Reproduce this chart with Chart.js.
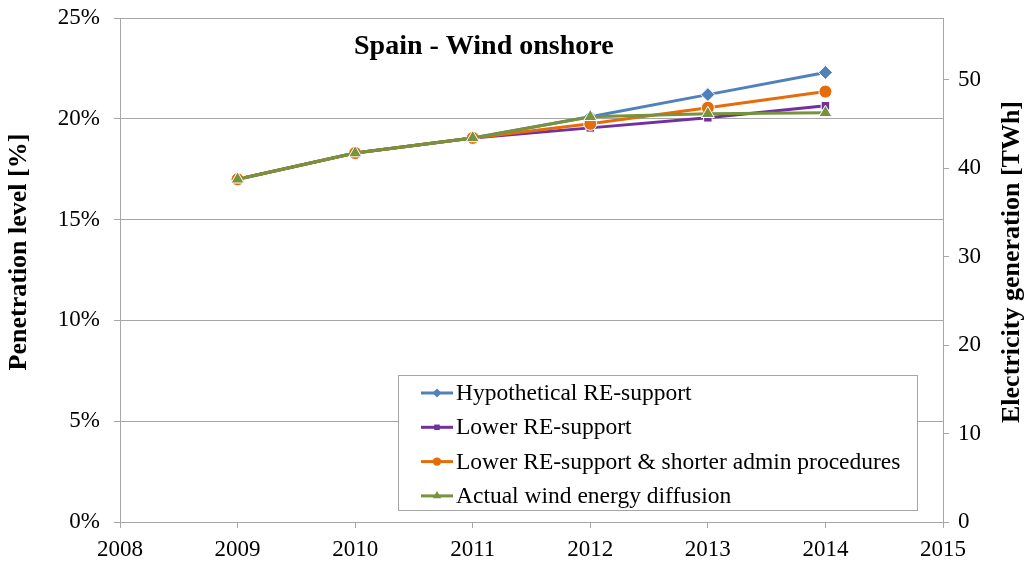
<!DOCTYPE html>
<html>
<head>
<meta charset="utf-8">
<script src="https://cdn.jsdelivr.net/npm/chart.js@4/dist/chart.umd.min.js"></script>
<style>
  html, body { margin: 0; padding: 0; background: #ffffff; }
  #wrap { position: relative; width: 1028px; height: 566px; }
</style>
</head>
<body>
<div id="wrap"><canvas id="wind-chart" width="1028" height="566"></canvas></div>
<script>
// Spain onshore wind: penetration level (% of demand) per scenario
const years = [2009, 2010, 2011, 2012, 2013, 2014];
const hypotheticalSupport = [17.0, 18.3, 19.05, 20.1, 21.2, 22.3];
const lowerSupport = [17.0, 18.3, 19.05, 19.55, 20.05, 20.65];
const lowerSupportShorterAdmin = [17.0, 18.3, 19.05, 19.75, 20.55, 21.35];
const actualDiffusion = [17.0, 18.3, 19.05, 20.1, 20.25, 20.3];

const seriesNames = [
  "Hypothetical RE-support",
  "Lower RE-support",
  "Lower RE-support & shorter admin procedures",
  "Actual wind energy diffusion"
];
const xTicks = [2008, 2009, 2010, 2011, 2012, 2013, 2014, 2015];
const leftTicks = [0, 5, 10, 15, 20, 25];
const rightTicks = [0, 10, 20, 30, 40, 50];
const rightAxisMax = 57; // TWh equivalent of 25 %

const chartTitle = "Spain - Wind onshore";
const leftTitle = "Penetration level [%]";
const rightTitle = "Electricity generation [TWh]";

const seriesValues = [hypotheticalSupport, lowerSupport, lowerSupportShorterAdmin, actualDiffusion];
const palette = ["#4f81bd", "#7030a0", "#e46c0a", "#77933c"];
const markers = [
  { style: "rectRot", radius: 7 },
  { style: "rect", radius: 6 },
  { style: "circle", radius: 6.5 },
  { style: "triangle", radius: 7.5 }
];

const serif = "'Liberation Serif', 'Times New Roman', serif";
const gridGrey = "#a6a6a6";

const datasets = seriesNames.map((name, i) => ({
  label: name,
  data: years.map((yr, k) => ({ x: yr, y: seriesValues[i][k] })),
  borderColor: palette[i],
  backgroundColor: palette[i],
  borderWidth: 3,
  pointStyle: markers[i].style,
  pointRadius: markers[i].radius,
  pointBackgroundColor: palette[i],
  pointBorderColor: "#ffffff",
  pointBorderWidth: 1,
  tension: 0,
  order: seriesNames.length - i, // last series sits on top
  yAxisID: "y"
}));

// keep the plot box fixed: no extra room for half tick labels
function noScalePadding(scale) {
  scale.paddingTop = 0;
  scale.paddingBottom = 0;
  scale.paddingLeft = 0;
  scale.paddingRight = 0;
}

// title, axis captions and the boxed legend inside the plot
const overlay = {
  id: "overlay",
  afterDraw(chart) {
    const ctx = chart.ctx;
    ctx.save();

    ctx.fillStyle = "#000000";
    ctx.font = "bold 28px " + serif;
    ctx.textAlign = "left";
    ctx.textBaseline = "middle";
    ctx.fillText(chartTitle, 354, 47);

    ctx.font = "bold 26px " + serif;
    ctx.textAlign = "center";
    ctx.save();
    ctx.translate(19, 252);
    ctx.rotate(-Math.PI / 2);
    ctx.fillText(leftTitle, 0, 0);
    ctx.restore();
    ctx.save();
    ctx.translate(1012, 262);
    ctx.rotate(-Math.PI / 2);
    ctx.fillText(rightTitle, 0, 0);
    ctx.restore();

    // legend box
    const box = { x: 398.5, y: 375.5, w: 519, h: 135 };
    ctx.fillStyle = "#ffffff";
    ctx.fillRect(box.x, box.y, box.w, box.h);
    ctx.strokeStyle = gridGrey;
    ctx.lineWidth = 1;
    ctx.strokeRect(box.x, box.y, box.w, box.h);

    ctx.font = "23.5px " + serif;
    ctx.textAlign = "left";
    ctx.textBaseline = "middle";
    seriesNames.forEach((name, i) => {
      const rowY = 393 + i * 34.3;
      ctx.strokeStyle = palette[i];
      ctx.lineWidth = 3;
      ctx.beginPath();
      ctx.moveTo(421, rowY);
      ctx.lineTo(453, rowY);
      ctx.stroke();
      ctx.fillStyle = palette[i];
      ctx.strokeStyle = palette[i];
      Chart.helpers.drawPoint(ctx, {
        pointStyle: markers[i].style,
        radius: markers[i].radius * 0.65,
        rotation: 0,
        borderWidth: 0
      }, 437, rowY);
      ctx.fillStyle = "#000000";
      ctx.fillText(name, 456, rowY + 1);
    });

    ctx.restore();
  }
};

new Chart(document.getElementById("wind-chart"), {
  type: "line",
  data: { datasets },
  plugins: [overlay],
  options: {
    responsive: false,
    animation: false,
    layout: { padding: { top: 18, left: 0, right: 0, bottom: 0 } },
    plugins: {
      legend: { display: false },
      title: { display: false },
      tooltip: { enabled: false }
    },
    scales: {
      x: {
        type: "linear",
        min: xTicks[0],
        max: xTicks[xTicks.length - 1],
        afterBuildTicks: scale => { scale.ticks = xTicks.map(v => ({ value: v })); },
        afterFit: scale => { scale.height = 44; noScalePadding(scale); },
        grid: {
          drawOnChartArea: false,
          drawTicks: true,
          tickLength: 6,
          color: gridGrey
        },
        border: { color: gridGrey, width: 1 },
        ticks: {
          color: "#000000",
          font: { family: serif, size: 23 },
          padding: 8,
          maxRotation: 0,
          callback: v => String(v)
        }
      },
      y: {
        type: "linear",
        position: "left",
        min: 0,
        max: 25,
        afterBuildTicks: scale => { scale.ticks = leftTicks.map(v => ({ value: v })); },
        afterFit: scale => { scale.width = 120; noScalePadding(scale); },
        grid: {
          drawOnChartArea: true,
          drawTicks: true,
          tickLength: 6,
          color: gridGrey
        },
        border: { color: gridGrey, width: 1 },
        ticks: {
          color: "#000000",
          font: { family: serif, size: 23 },
          padding: 14,
          callback: v => v + "%"
        }
      },
      y2: {
        type: "linear",
        position: "right",
        min: 0,
        max: rightAxisMax,
        afterBuildTicks: scale => { scale.ticks = rightTicks.map(v => ({ value: v })); },
        afterFit: scale => { scale.width = 85; noScalePadding(scale); },
        grid: {
          drawOnChartArea: false,
          drawTicks: true,
          tickLength: 6,
          color: gridGrey
        },
        border: { color: gridGrey, width: 1 },
        ticks: {
          color: "#000000",
          font: { family: serif, size: 23 },
          padding: 9,
          callback: v => String(v)
        }
      }
    }
  }
});
</script>
</body>
</html>
